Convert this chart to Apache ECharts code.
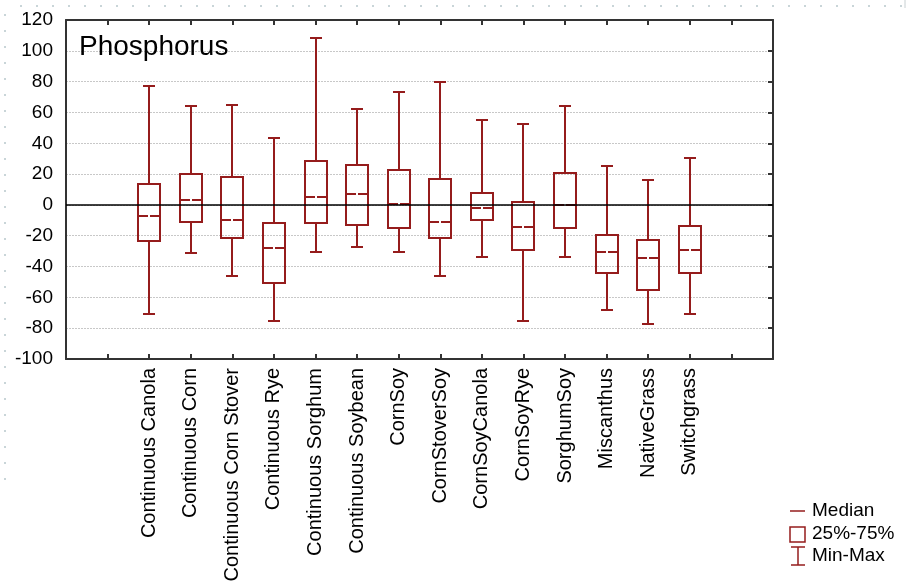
<!DOCTYPE html>
<html><head><meta charset="utf-8">
<script src="https://cdn.jsdelivr.net/npm/echarts@6/dist/echarts.min.js"></script>
<style>html,body{margin:0;padding:0;background:#fff}#c{width:906px;height:588px}</style>
</head><body><div id="c"></div>
<script>
const categories = ['Continuous Canola','Continuous Corn','Continuous Corn Stover','Continuous Rye','Continuous Sorghum','Continuous Soybean','CornSoy','CornStoverSoy','CornSoyCanola','CornSoyRye','SorghumSoy','Miscanthus','NativeGrass','Switchgrass'];
const minVals    = [-71, -31.5, -46, -75.5, -30.5, -27, -30.5, -46, -33.5, -75.5, -33.5, -68, -77, -71];
const q1Vals     = [-23.5, -11, -21.5, -50.5, -12, -13, -15, -21.5, -9.5, -29.5, -15, -44.5, -55, -44.5];
const medianVals = [-7, 3.5, -9.5, -28, 5, 7, 0.5, -11, -2, -14.5, 0, -30.5, -34.5, -29.5];
const q3Vals     = [13.5, 20, 18, -12, 28.5, 26, 22.5, 17, 8, 2, 20.5, -19.5, -22.5, -13.5];
const maxVals    = [77, 64, 65, 43.5, 108, 62.5, 73.5, 80, 55, 52.5, 64, 25, 16, 30.5];
const yMin = -100, yMax = 120, yStep = 20;
const legendItems = ['Median', '25%-75%', 'Min-Max'];

const FONT = "'Liberation Sans', Arial, sans-serif";
const RED = '#951c1c';
const AX = '#333333';
// axis slots: two empty slots before, two after
const axisCats = ['', ''].concat(categories, ['', '']);
const boxData = categories.map((c, i) => [i + 2, minVals[i], q1Vals[i], medianVals[i], q3Vals[i], maxVals[i]]);

function renderItem(params, api) {
  const idx = api.value(0);
  const x = Math.round(api.coord([idx, 0])[0]);
  const y = v => Math.round(api.coord([idx, v])[1]);
  const yMn = y(api.value(1)), yQ1 = y(api.value(2)), yMd = y(api.value(3)), yQ3 = y(api.value(4)), yMx = y(api.value(5));
  const bw = 22, cw = 12, gap = 1;
  const st = { stroke: RED, lineWidth: 2, fill: null };
  return {
    type: 'group',
    children: [
      { type: 'line', shape: { x1: x, y1: yMx, x2: x, y2: yQ3 }, style: st },
      { type: 'line', shape: { x1: x, y1: yQ1, x2: x, y2: yMn }, style: st },
      { type: 'line', shape: { x1: x - cw / 2, y1: yMx, x2: x + cw / 2, y2: yMx }, style: st },
      { type: 'line', shape: { x1: x - cw / 2, y1: yMn, x2: x + cw / 2, y2: yMn }, style: st },
      { type: 'rect', shape: { x: x - bw / 2, y: yQ3, width: bw, height: yQ1 - yQ3 }, style: { stroke: RED, lineWidth: 2, fill: 'rgba(0,0,0,0)' } },
      { type: 'line', shape: { x1: x - bw / 2, y1: yMd, x2: x - gap, y2: yMd }, style: st },
      { type: 'line', shape: { x1: x + gap, y1: yMd, x2: x + bw / 2, y2: yMd }, style: st }
    ]
  };
}

const chart = echarts.init(document.getElementById('c'), null, { renderer: 'canvas' });
const dotted = { stroke: '#b8c8cc', lineWidth: 1.5, lineDash: [2, 14] };
chart.setOption({
  animation: false,
  backgroundColor: '#fff',
  title: {
    text: 'Phosphorus', left: 79, top: 33, padding: 0,
    textStyle: { fontFamily: FONT, fontSize: 28, fontWeight: 'normal', color: '#000' }
  },
  grid: { left: 66, right: 133, top: 20, bottom: 229, containLabel: false },
  xAxis: [
    {
      type: 'category', data: axisCats, boundaryGap: false, position: 'bottom',
      axisLine: { show: true, onZero: false, lineStyle: { color: AX, width: 2 } },
      axisTick: { show: true, inside: true, length: 5, interval: 0, lineStyle: { color: AX, width: 2 } },
      axisLabel: { show: true, interval: 0, rotate: 90, margin: 9, fontFamily: FONT, fontSize: 20, color: '#000' },
      splitLine: { show: false }
    },
    {
      type: 'category', data: axisCats, boundaryGap: false, position: 'top',
      axisLine: { show: true, onZero: false, lineStyle: { color: AX, width: 2 } },
      axisTick: { show: true, inside: true, length: 5, interval: 0, lineStyle: { color: AX, width: 2 } },
      axisLabel: { show: false }, splitLine: { show: false }
    }
  ],
  yAxis: [
    {
      type: 'value', min: yMin, max: yMax, interval: yStep, position: 'left',
      axisLine: { show: true, onZero: false, lineStyle: { color: AX, width: 2 } },
      axisTick: { show: false },
      axisLabel: { margin: 13, fontFamily: FONT, fontSize: 19, color: '#000' },
      splitLine: { show: true, lineStyle: { color: '#c8c8c8', width: 1, type: [2, 1] } }
    },
    {
      type: 'value', min: yMin, max: yMax, interval: yStep, position: 'right',
      axisLine: { show: true, onZero: false, lineStyle: { color: AX, width: 2 } },
      axisTick: { show: true, inside: true, length: 5, lineStyle: { color: AX, width: 2 } },
      axisLabel: { show: false }, splitLine: { show: false }
    }
  ],
  series: [{
    type: 'custom', name: 'Phosphorus', renderItem: renderItem, data: boxData,
    encode: { x: 0, y: [1, 2, 3, 4, 5] },
    xAxisIndex: 0, yAxisIndex: 0, z: 3,
    markLine: {
      silent: true, symbol: 'none', label: { show: false },
      lineStyle: { color: '#000', width: 1.5, type: 'solid' },
      data: [{ yAxis: 0 }]
    }
  }],
  graphic: [
    { type: 'line', shape: { x1: 20, y1: 6, x2: 904, y2: 6 }, style: dotted, silent: true },
    { type: 'line', shape: { x1: 5, y1: 14, x2: 5, y2: 490 }, style: dotted, silent: true },
    { type: 'line', shape: { x1: 905, y1: 0, x2: 905, y2: 8 }, style: { stroke: '#c8d0d2', lineWidth: 1 }, silent: true },
    // legend: median
    { type: 'line', shape: { x1: 790, y1: 511, x2: 805, y2: 511 }, style: { stroke: RED, lineWidth: 1.5 } },
    { type: 'text', left: 812, top: 501, style: { text: legendItems[0], font: '19px ' + FONT, fill: '#000' } },
    // legend: box
    { type: 'rect', shape: { x: 790, y: 527, width: 15, height: 15 }, style: { stroke: RED, lineWidth: 1.5, fill: 'rgba(0,0,0,0)' } },
    { type: 'text', left: 812, top: 524, style: { text: legendItems[1], font: '19px ' + FONT, fill: '#000' } },
    // legend: min-max
    { type: 'line', shape: { x1: 798, y1: 547, x2: 798, y2: 565 }, style: { stroke: RED, lineWidth: 1.5 } },
    { type: 'line', shape: { x1: 791, y1: 547, x2: 805, y2: 547 }, style: { stroke: RED, lineWidth: 1.5 } },
    { type: 'line', shape: { x1: 791, y1: 565, x2: 805, y2: 565 }, style: { stroke: RED, lineWidth: 1.5 } },
    { type: 'text', left: 812, top: 546, style: { text: legendItems[2], font: '19px ' + FONT, fill: '#000' } }
  ]
});
</script>
</body></html>
